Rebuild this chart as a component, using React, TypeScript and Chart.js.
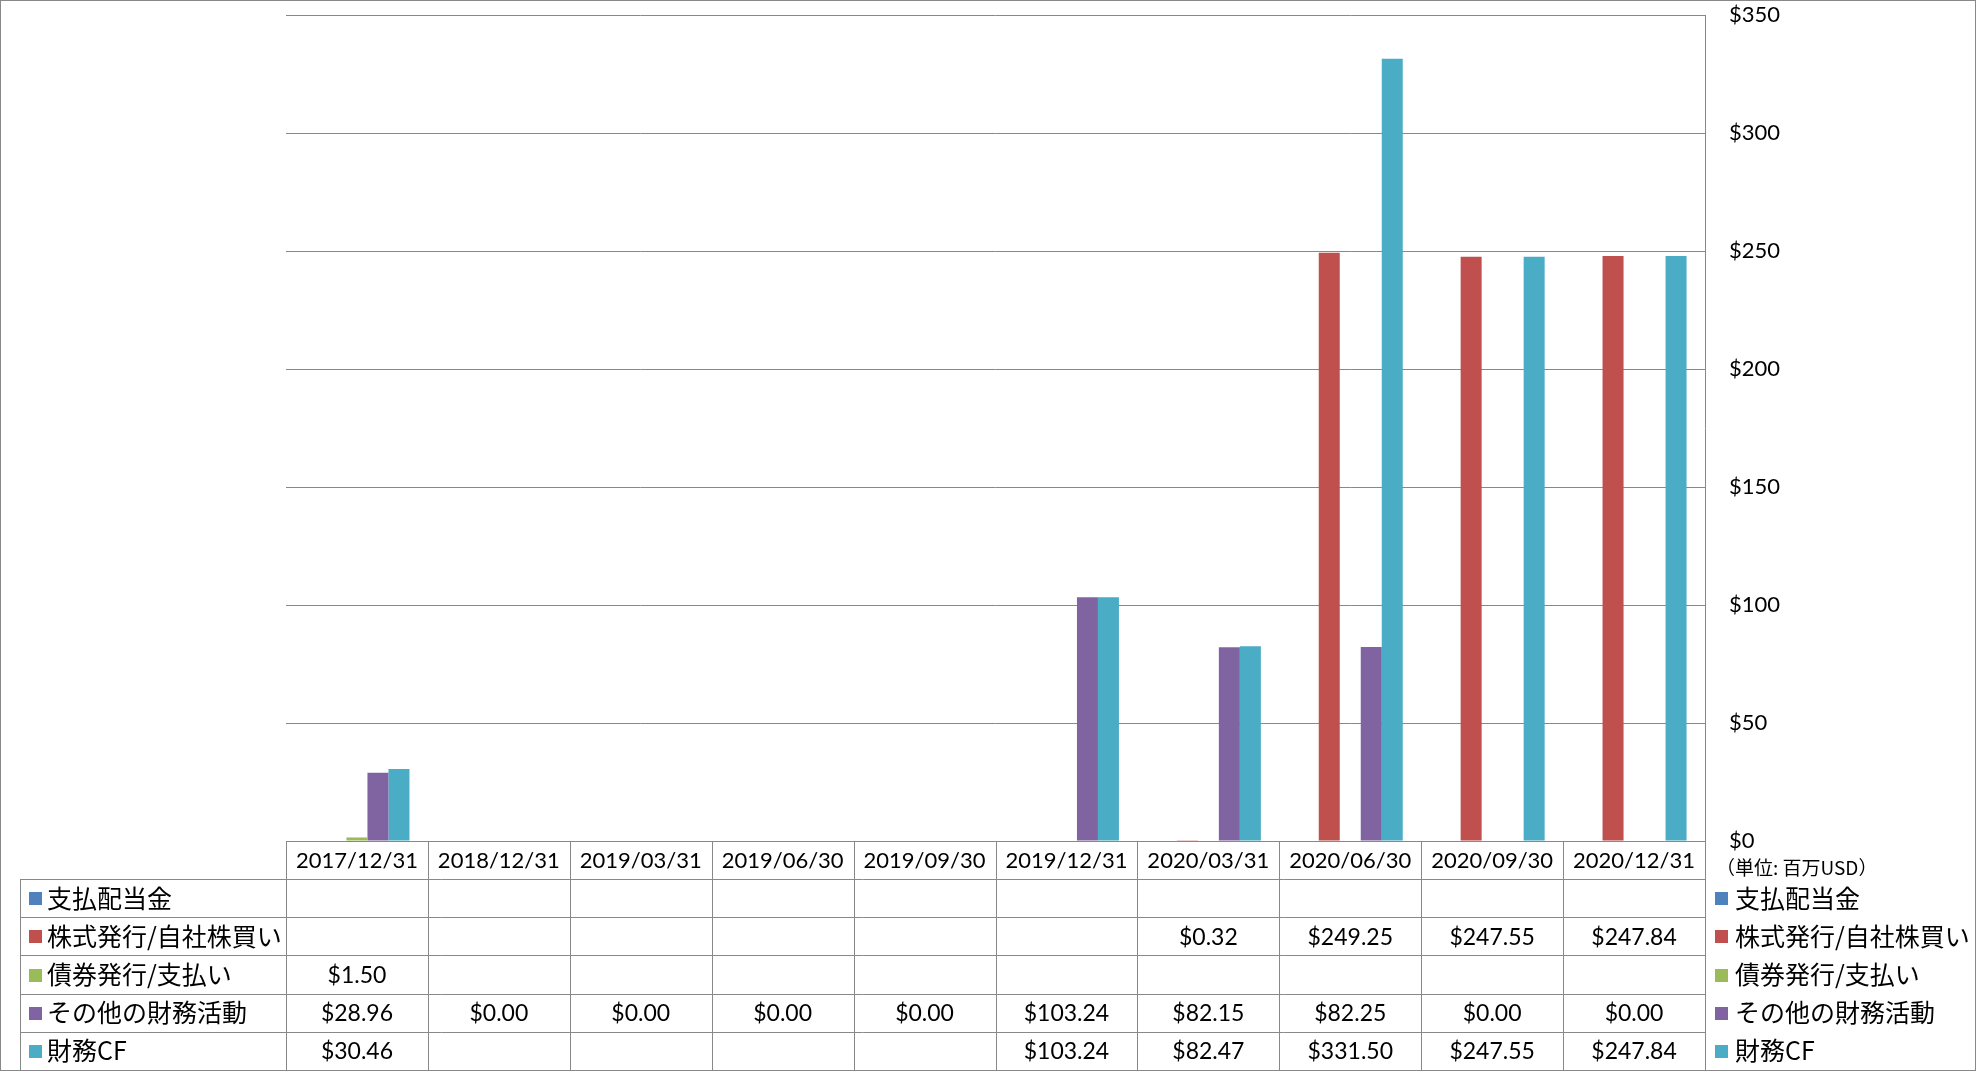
import React, { useEffect, useRef } from 'react';
import { Chart, registerables } from 'chart.js';

Chart.register(...registerables);

const categories = ['2017/12/31', '2018/12/31', '2019/03/31', '2019/06/30', '2019/09/30', '2019/12/31', '2020/03/31', '2020/06/30', '2020/09/30', '2020/12/31'];
const seriesNames = ['支払配当金', '株式発行/自社株買い', '債券発行/支払い', 'その他の財務活動', '財務CF'];
const dividends: (number | null)[] = [null, null, null, null, null, null, null, null, null, null];
const equityIssuance: (number | null)[] = [null, null, null, null, null, null, 0.32, 249.25, 247.55, 247.84];
const debtIssuance: (number | null)[] = [1.5, null, null, null, null, null, null, null, null, null];
const otherFinancing: (number | null)[] = [28.96, 0, 0, 0, 0, 103.24, 82.15, 82.25, 0, 0];
const financingCF: (number | null)[] = [30.46, null, null, null, null, 103.24, 82.47, 331.5, 247.55, 247.84];
const seriesColors = ['#4F81BD', '#C0504D', '#9BBB59', '#8064A2', '#4BACC6'];
const yMin = 0;
const yMax = 350;
const yStep = 50;
const unitLabel = '（単位: 百万USD）';

const allSeries = [dividends, equityIssuance, debtIssuance, otherFinancing, financingCF];

const NUM_FONT = 'Lato, "Noto Sans CJK JP", sans-serif';
const JP_FONT = '"Noto Sans CJK JP", sans-serif';
const LINE = '#888888';

const tablePlugin = {
  id: 'dataTable',
  afterDraw(chart: any) {
    const ctx = chart.ctx as CanvasRenderingContext2D;
    const area = chart.chartArea;
    const xs = chart.scales.x;
    const n = categories.length;
    const colW = (area.right - area.left) / n;
    const W = chart.width;
    const H = chart.height;
    const headerTop = area.bottom;
    const headerBottom = headerTop + 38;
    const tableBottom = H - 1;
    const rowH = (tableBottom - headerBottom) / seriesNames.length;
    const labelLeft = 20;
    const px = (v: number) => Math.round(v) + 0.5;

    ctx.save();
    ctx.strokeStyle = LINE;
    ctx.lineWidth = 1;
    ctx.beginPath();
    ctx.moveTo(area.left, px(headerTop));
    ctx.lineTo(area.right, px(headerTop));
    for (let r = 0; r < seriesNames.length; r++) {
      const y = px(headerBottom + r * rowH);
      ctx.moveTo(labelLeft, y);
      ctx.lineTo(area.right, y);
    }
    ctx.moveTo(px(labelLeft), headerBottom);
    ctx.lineTo(px(labelLeft), tableBottom);
    for (let i = 0; i <= n; i++) {
      const x = px(area.left + i * colW);
      ctx.moveTo(x, headerTop);
      ctx.lineTo(x, tableBottom);
    }
    ctx.stroke();

    ctx.strokeRect(0.5, 0.5, W - 1, H - 1);

    ctx.fillStyle = '#000';
    ctx.textAlign = 'center';
    ctx.textBaseline = 'middle';
    ctx.font = `22px ${NUM_FONT}`;
    for (let i = 0; i < n; i++) {
      const cx = xs.getPixelForTick(i);
      ctx.fillText(categories[i], cx, (headerTop + headerBottom) / 2 + 1);
    }

    for (let r = 0; r < seriesNames.length; r++) {
      const cy = headerBottom + r * rowH + rowH / 2;
      ctx.fillStyle = seriesColors[r];
      ctx.fillRect(29, Math.round(cy - 6), 13, 13);
      ctx.fillStyle = '#000';
      ctx.textAlign = 'left';
      ctx.font = `25px ${JP_FONT}`;
      ctx.fillText(seriesNames[r], 47, cy);
      ctx.fillStyle = seriesColors[r];
      ctx.fillRect(area.right + 10, Math.round(cy - 6), 13, 13);
      ctx.fillStyle = '#000';
      ctx.fillText(seriesNames[r], area.right + 30, cy);
      ctx.textAlign = 'center';
      ctx.font = `23px ${NUM_FONT}`;
      const vals = allSeries[r];
      for (let i = 0; i < n; i++) {
        const v = vals[i];
        if (v === null || v === undefined) continue;
        ctx.fillText('$' + v.toFixed(2), xs.getPixelForTick(i), cy + 1);
      }
    }

    ctx.textAlign = 'left';
    ctx.font = `19px ${JP_FONT}`;
    ctx.fillText(unitLabel, area.right + 11, headerTop + 27);
    ctx.restore();
  },
};

export default function App() {
  const canvasRef = useRef<HTMLCanvasElement | null>(null);

  useEffect(() => {
    if (!canvasRef.current) return;
    const chart = new Chart(canvasRef.current, {
      type: 'bar',
      data: {
        labels: categories,
        datasets: allSeries.map((d, i) => ({
          label: seriesNames[i],
          data: d,
          backgroundColor: seriesColors[i],
          borderWidth: 0,
          categoryPercentage: 0.74,
          barPercentage: 1.0,
        })),
      },
      options: {
        responsive: false,
        animation: false,
        devicePixelRatio: 1,
        layout: { autoPadding: false, padding: { left: 286, top: 15, bottom: 230, right: 0 } },
        plugins: {
          legend: { display: false },
          tooltip: { enabled: false },
        },
        scales: {
          x: { display: false },
          y: {
            position: 'right',
            min: yMin,
            max: yMax,
            ticks: {
              stepSize: yStep,
              padding: 24,
              color: '#000',
              font: { family: NUM_FONT, size: 22 },
              callback: (v: any) => '$' + v,
            },
            grid: { color: LINE, lineWidth: 1, drawTicks: false },
            border: { display: true, color: LINE },
            afterFit: (scale: any) => {
              scale.width = 271;
              scale.paddingTop = 0;
              scale.paddingBottom = 0;
            },
          },
        },
      },
      plugins: [tablePlugin],
    } as any);
    return () => chart.destroy();
  }, []);

  return (
    <div style={{ position: 'absolute', left: 0, top: 0, width: 1976, height: 1071, background: '#fff' }}>
      <canvas ref={canvasRef} width={1976} height={1071} style={{ display: 'block' }} />
    </div>
  );
}
